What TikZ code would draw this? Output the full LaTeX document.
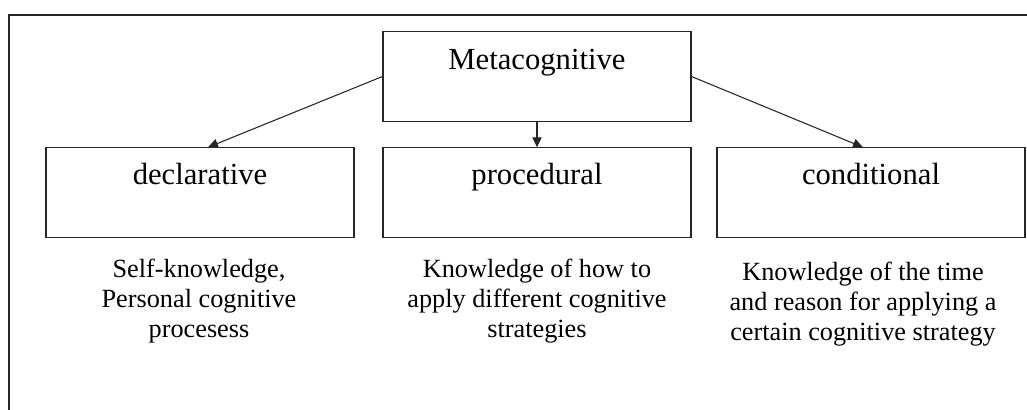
\documentclass[tikz,border=0pt]{standalone}
\usepackage{fontspec}
\setmainfont{Liberation Serif}
\usetikzlibrary{arrows.meta}
\tikzset{
  box/.style={draw=black!85, line width=0.8pt, rectangle, minimum width=231pt, minimum height=67pt, inner sep=0pt},
  boxlbl/.style={anchor=base, inner sep=0pt, font=\fontsize{23}{27}\selectfont},
  desc/.style={align=center, font=\fontsize{19.7}{22.5}\selectfont, inner sep=0pt},
  conn/.style={draw=black!85, line width=0.8pt, -{Triangle[length=7.5pt,width=7pt]}},
  frame/.style={draw=black!85, line width=1.1pt}
}
\begin{document}
\begin{tikzpicture}[x=0.75pt,y=-0.75pt]
\useasboundingbox (0,0) rectangle (1027,410);
% outer frame (top and left edges visible)
\coordinate (ftr) at (1030,15);
\coordinate (ftl) at (9,15);
\coordinate (fbl) at (9,412);
\draw[frame] (ftr) -- (ftl) -- (fbl);
% boxes
\node[box, label={[boxlbl, yshift=-28.5pt]north:Metacognitive}] (meta) at (537,76.5) {};
\node[box, label={[boxlbl, yshift=-28pt]north:declarative}] (decl) at (200,192.5) {};
\node[box, label={[boxlbl, yshift=-28pt]north:procedural}] (proc) at (537,192.5) {};
\node[box, label={[boxlbl, yshift=-28pt]north:conditional}] (cond) at (871,192.5) {};
% descriptions
\node[desc] (ddesc) at (199,301) {Self-knowledge,\\Personal cognitive\\procesess};
\node[desc] (pdesc) at (537,301) {Knowledge of how to\\apply different cognitive\\strategies};
\node[desc] (cdesc) at (863,304) {Knowledge of the time\\and reason for applying a\\certain cognitive strategy};
% connectors
\draw[conn] (meta.west) -- ([xshift=6pt]decl.north);
\draw[conn] (meta.south) -- (proc.north);
\draw[conn] (meta.east) -- ([xshift=-6pt]cond.north);
\end{tikzpicture}
\end{document}
